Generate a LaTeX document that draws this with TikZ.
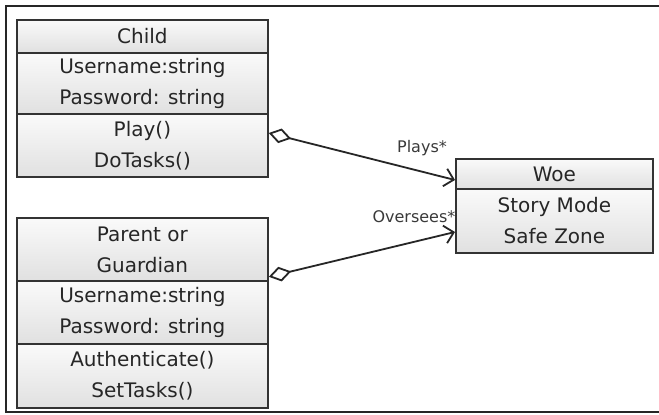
\documentclass[tikz,border=0pt]{standalone}
\usepackage{fontspec}
\setmainfont{DejaVu Sans}
\usetikzlibrary{calc,arrows.meta}
\definecolor{boxline}{HTML}{333333}
\definecolor{txt}{HTML}{262626}
\definecolor{lbl}{HTML}{3A3A3A}
\begin{document}
\begin{tikzpicture}[x=1pt,y=-1pt,
  comp/.style={draw=boxline, line width=1.8pt, anchor=north west, minimum width=251pt,
    inner sep=0pt, align=center, text=txt, top color=gray!4, bottom color=gray!24,
    font=\fontsize{20}{31}\selectfont},
  conn/.style={draw=black!85, line width=1.8pt,
    {Diamond[open,length=23pt,width=15pt]}-{Straight Barb[length=9pt,width=18pt]}},
  lab/.style={text=lbl, font=\fontsize{16}{18}\selectfont, inner sep=0pt}]
\useasboundingbox (0,0) rectangle (659,415);
\fill[white] (0,0) rectangle (659,415);
\draw[line width=1.8pt, black!85] (665,6) -- (6,6) -- (6,412) -- (665,412);
% Child
\node[comp, minimum height=33pt] (childT) at (16,19) {Child};
\node[comp, minimum height=61pt] (childA) at (16,52) {Username:string\\Password: string};
\node[comp, minimum height=63pt] (childM) at (16,113) {Play()\\DoTasks()};
% Parent
\node[comp, minimum height=63pt] (parT) at (16,217) {Parent or\\Guardian};
\node[comp, minimum height=63pt] (parA) at (16,280) {Username:string\\Password: string};
\node[comp, minimum height=64pt] (parM) at (16,343) {Authenticate()\\SetTasks()};
% Woe
\node[comp, minimum width=197pt, minimum height=30pt] (woeT) at (455,158) {Woe};
\node[comp, minimum width=197pt, minimum height=64pt] (woeB) at (455,188) {Story Mode\\Safe Zone};
% connectors
\draw[conn] ($(childM.north east)+(0,20)$) -- ($(woeT.north west)+(0,22)$);
\draw[conn] ($(parT.south east)+(0,-5)$) -- ($(woeB.north west)+(0,44)$);
\node[lab] (lplays) at (422,148) {Plays*};
\node[lab] (lover) at (414,217) {Oversees*};
\end{tikzpicture}
\end{document}
